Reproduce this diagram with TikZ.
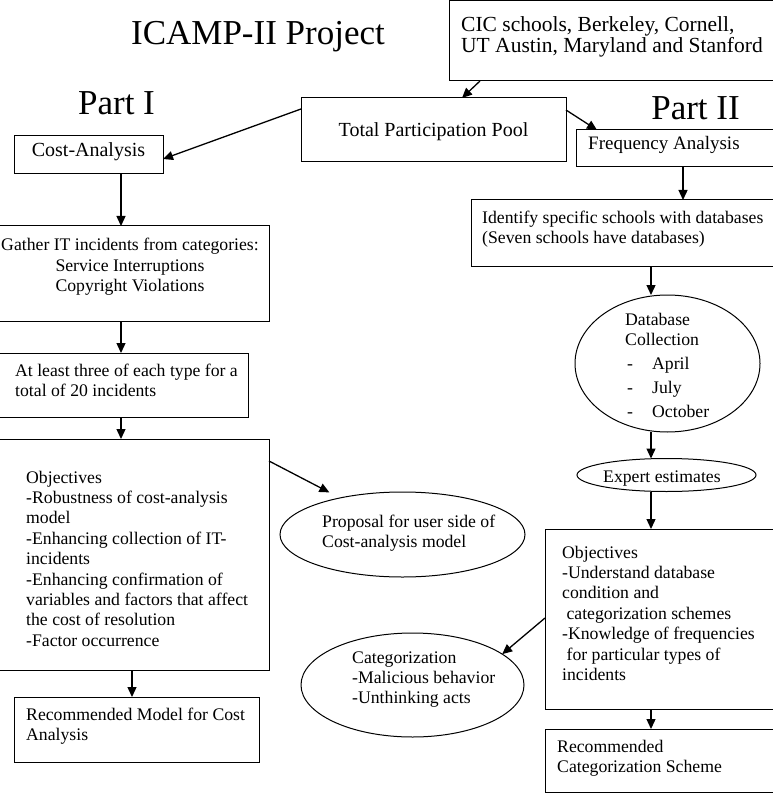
\documentclass[tikz,border=0pt]{standalone}
\usepackage{fontspec}
\setmainfont{Liberation Serif}
\usetikzlibrary{arrows.meta,shapes.geometric}

\newcommand\bodyfont{\fontsize{17.7}{20.4}\selectfont}
\newcommand\bigfont{\fontsize{35}{40}\selectfont}

\begin{document}
\begin{tikzpicture}[x=1pt, y=-1pt, >={Triangle[width=9pt,length=10pt]},
    box/.style={draw, line width=1pt, inner sep=0pt, outer sep=0pt, anchor=north west},
    oval/.style={draw, ellipse, line width=1pt, inner sep=0pt, outer sep=0pt},
    txt/.style={inner sep=0pt, anchor=base west, align=flush left, text width=340pt, font=\bodyfont},
    arr/.style={->, line width=1.3pt}]
    \useasboundingbox (0,0) rectangle (772,794);

    % headings
    \node[font=\bigfont, anchor=base] (title) at (258,45) {ICAMP-II Project};
    \node[font=\bigfont, anchor=base] (part1) at (116.5,115) {Part I};
    \node[font=\bigfont, anchor=base] (part2) at (695.5,120) {Part II};

    % boxes
    \node[box, minimum width=324, minimum height=80] (cic) at (449,1) {};
    \node[box, minimum width=265, minimum height=64] (pool) at (301,98) {};
    \node[box, minimum width=149, minimum height=38] (cost) at (14,136) {};
    \node[box, minimum width=199, minimum height=37] (freq) at (576,130) {};
    \node[box, minimum width=271, minimum height=95] (gather) at (-2,226) {};
    \node[box, minimum width=250, minimum height=64] (least) at (-2,353) {};
    \node[box, minimum width=271, minimum height=231] (objl) at (-2,439) {};
    \node[box, minimum width=245, minimum height=65] (recmod) at (14,697) {};
    \node[box, minimum width=304, minimum height=66] (ident) at (471,200) {};
    \node[box, minimum width=230, minimum height=180] (objr) at (545,529) {};
    \node[box, minimum width=230, minimum height=63.5] (reccat) at (545,729) {};

    % ovals
    \node[oval, minimum width=185, minimum height=137] (dbase) at (667.5,363.5) {};
    \node[oval, minimum width=179, minimum height=33] (expert) at (666.5,475) {};
    \node[oval, minimum width=245, minimum height=85] (prop) at (402.5,534.5) {};
    \node[oval, minimum width=223, minimum height=104] (categ) at (412.5,685) {};

    % texts
    \node[txt, font=\fontsize{21.5}{19}\selectfont] (cic-t) at (461,32)
        {CIC schools, Berkeley, Cornell,\\UT Austin, Maryland and Stanford};
    \node[font=\fontsize{20}{23}\selectfont, anchor=base, inner sep=0pt] (pool-t) at (433.5,137) {Total Participation Pool};
    \node[font=\fontsize{20}{23}\selectfont, anchor=base, inner sep=0pt] (cost-t) at (88.5,157) {Cost-Analysis};
    \node[txt, font=\fontsize{19}{22}\selectfont] (freq-t) at (588,150) {Frequency Analysis};
    \node[txt, anchor=base, align=flush center, text width=280pt] (gather-t) at (130,251)
        {Gather IT incidents from categories:\\Service Interruptions\\Copyright Violations};
    \node[txt] (least-t) at (15,376) {At least three of each type for a\\total of 20 incidents};
    \node[txt] (objl-t) at (26,483)
        {Objectives\\-Robustness of cost-analysis\\model\\-Enhancing collection of IT-\\incidents\\
         -Enhancing confirmation of\\variables and factors that affect\\the cost of resolution\\-Factor occurrence};
    \node[txt] (recmod-t) at (26,720) {Recommended Model for Cost\\Analysis};
    \node[txt] (ident-t) at (482,223) {Identify specific schools with databases\\(Seven schools have databases)};
    \node[txt] (dbase-t) at (625,325)
        {Database\\Collection\\[3.6pt]\makebox[27pt][l]{\hspace*{2pt}-}April\\[3.6pt]
         \makebox[27pt][l]{\hspace*{2pt}-}July\\[3.6pt]\makebox[27pt][l]{\hspace*{2pt}-}October};
    \node[txt] (expert-t) at (603,482) {Expert estimates};
    \node[txt] (prop-t) at (322,527) {Proposal for user side of\\Cost-analysis model};
    \node[txt] (categ-t) at (352,663) {Categorization\\-Malicious behavior\\-Unthinking acts};
    \node[txt] (objr-t) at (562,558)
        {Objectives\\-Understand database\\condition and\\\hspace*{4.4pt}categorization schemes\\
         -Knowledge of frequencies\\\hspace*{4.4pt}for particular types of\\incidents};
    \node[txt] (reccat-t) at (557,752) {Recommended\\Categorization Scheme};

    % arrows
    \coordinate (colL) at (121,0);
    \coordinate (colM) at (132,0);
    \coordinate (colF) at (683,0);
    \coordinate (colR) at (651,0);

    \draw[arr] ([xshift=31pt]cic.south west) -- ([xshift=28.5pt]pool.north);
    \draw[arr] ([yshift=-11pt]pool.north west) -- ([yshift=-4pt]cost.east);
    \draw[arr] ([yshift=-12pt]pool.north east) -- ([xshift=21pt]freq.north west);

    \draw[arr] (cost.south -| colL) -- (gather.north -| colL);
    \draw[arr] (gather.south -| colL) -- (least.north -| colL);
    \draw[arr] (least.south -| colL) -- (objl.north -| colL);
    \draw[arr] ([yshift=-22pt]objl.north east) -- ([yshift=8pt]prop.155);
    \draw[arr] (objl.south -| colM) -- (recmod.north -| colM);

    \draw[arr] (freq.south -| colF) -- (ident.north -| colF);
    \draw[arr] (ident.south -| colR) -- (dbase.north -| colR);
    \draw[arr] (dbase.south -| colR) -- (expert.north -| colR);
    \draw[arr] (expert.south -| colR) -- (objr.north -| colR);
    \draw[arr] (objr.south -| colR) -- (reccat.north -| colR);
    \draw[arr] ([yshift=-89pt]objr.north west) -- (categ.19);
\end{tikzpicture}
\end{document}
